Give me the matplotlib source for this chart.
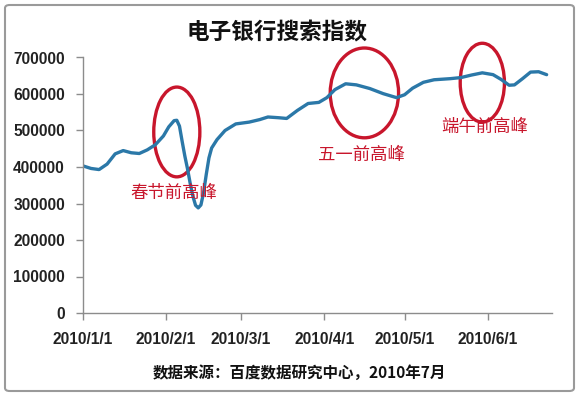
import matplotlib
matplotlib.use('Agg')
import matplotlib.pyplot as plt
import matplotlib.dates as mdates
from matplotlib.patches import Ellipse, FancyBboxPatch
import pandas as pd

plt.rcParams['font.family'] = ['Noto Sans CJK SC', 'DejaVu Sans']

# Données (indice de recherche banque en ligne)
dates = [
    '2010-01-01', '2010-01-04', '2010-01-07', '2010-01-10', '2010-01-13',
    '2010-01-16', '2010-01-19', '2010-01-22', '2010-01-25', '2010-01-28',
    '2010-01-31', '2010-02-02', '2010-02-04', '2010-02-05', '2010-02-06',
    '2010-02-07', '2010-02-08', '2010-02-09', '2010-02-10', '2010-02-11',
    '2010-02-12', '2010-02-13', '2010-02-14', '2010-02-15', '2010-02-16',
    '2010-02-17', '2010-02-18', '2010-02-20', '2010-02-23', '2010-02-27',
    '2010-03-04', '2010-03-08', '2010-03-11', '2010-03-15', '2010-03-18',
    '2010-03-22', '2010-03-26', '2010-03-30', '2010-04-02', '2010-04-05',
    '2010-04-09', '2010-04-13', '2010-04-18', '2010-04-23', '2010-04-28',
    '2010-05-01', '2010-05-04', '2010-05-08', '2010-05-12', '2010-05-18',
    '2010-05-22', '2010-05-26', '2010-05-30', '2010-06-03', '2010-06-06',
    '2010-06-09', '2010-06-11', '2010-06-14', '2010-06-17', '2010-06-20',
    '2010-06-23',
]
valeurs = [
    403000, 396000, 393000, 408000, 436000,
    445000, 439000, 437000, 447000, 461000,
    485000, 510000, 527000, 528000, 512000,
    470000, 430000, 395000, 355000, 320000,
    295000, 288000, 296000, 330000, 380000,
    425000, 452000, 475000, 500000, 518000,
    523000, 530000, 537000, 535000, 533000,
    555000, 574000, 577000, 590000, 612000,
    628000, 625000, 615000, 601000, 590000,
    598000, 616000, 632000, 639000, 642000,
    645000, 652000, 658000, 653000, 640000,
    624000, 625000, 642000, 660000, 661000,
    653000,
]

mois_ticks = ['2010-01-01', '2010-02-01', '2010-03-01', '2010-04-01', '2010-05-01', '2010-06-01']
mois_labels = ['2010/1/1', '2010/2/1', '2010/3/1', '2010/4/1', '2010/5/1', '2010/6/1']
y_ticks = [0, 100000, 200000, 300000, 400000, 500000, 600000, 700000]

# Annotations : (centre date, centre valeur, largeur jours, hauteur)
cercles = [
    ('2010-02-05', 496000, 17.2, 246000),
    ('2010-04-16', 603000, 25.5, 246000),
    ('2010-05-30', 631000, 16.5, 216000),
]
etiquettes = [
    ('2010-02-04', 329000, '春节前高峰'),
    ('2010-04-15', 433000, '五一前高峰'),
    ('2010-05-31', 510000, '端午前高峰'),
]

ROUGE = '#c8162c'
BLEU = '#2b78a8'

fig = plt.figure(figsize=(5.8, 3.96), dpi=100)
ax = fig.add_axes([83 / 580, 83 / 396, (552 - 83) / 580, (313 - 57.5) / 396])

x = pd.to_datetime(dates)
ax.plot(x, valeurs, color=BLEU, lw=2.4, solid_capstyle='round', solid_joinstyle='round')

ax.set_xlim(pd.Timestamp('2010-01-01'), pd.Timestamp('2010-06-25'))
ax.set_ylim(0, 700000)
ax.set_yticks(y_ticks)
ax.set_yticklabels([str(v) for v in y_ticks])
ax.set_xticks(pd.to_datetime(mois_ticks))
ax.set_xticklabels(mois_labels)

for s in ['top', 'right']:
    ax.spines[s].set_visible(False)
for s in ['left', 'bottom']:
    ax.spines[s].set_color('#8c8c8c')
    ax.spines[s].set_linewidth(1.0)
ax.tick_params(axis='y', length=5, width=1, color='#8c8c8c', pad=8)
ax.tick_params(axis='x', length=5, width=1, color='#8c8c8c', pad=8.5)
for lab in ax.get_xticklabels() + ax.get_yticklabels():
    lab.set_fontfamily(['Liberation Sans', 'DejaVu Sans'])
    lab.set_fontweight('bold')
    lab.set_fontsize(11.2)
    lab.set_color('#222222')

for d, v, w, h in cercles:
    e = Ellipse((mdates.date2num(pd.Timestamp(d)), v), w, h, fill=False,
                edgecolor=ROUGE, lw=2.4, clip_on=False)
    ax.add_patch(e)

for d, v, txt in etiquettes:
    ax.text(pd.Timestamp(d), v, txt, color=ROUGE, fontsize=12.5,
            ha='center', va='center')

fig.text(277 / 580, 1 - 33 / 396, '电子银行搜索指数', fontsize=16.3,
         fontweight='bold', ha='center', va='center', color='#111111')
fig.text(299 / 580, 1 - 373 / 396, '数据来源：百度数据研究中心，2010年7月',
         fontsize=11.2, fontweight='bold', ha='center', va='center', color='#111111')

cadre = FancyBboxPatch((5 / 580, 5 / 396), 569 / 580, 386 / 396,
                       boxstyle='round,pad=0,rounding_size=0.008',
                       transform=fig.transFigure, fill=False,
                       edgecolor='#9a9a9a', lw=1.5)
fig.patches.append(cadre)

fig.savefig('out.png', dpi=100)
